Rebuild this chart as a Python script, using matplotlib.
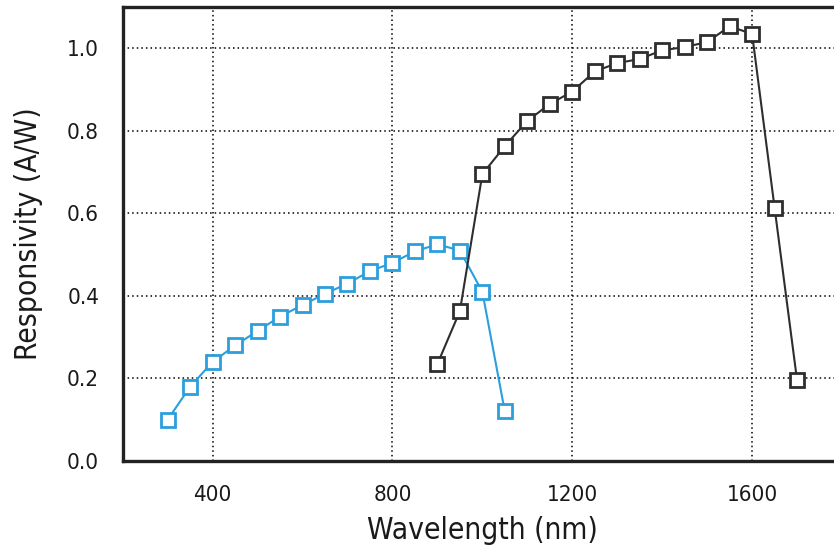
import matplotlib
matplotlib.use("Agg")
import matplotlib.pyplot as plt

plt.rcParams['font.family'] = ['DejaVu Sans']
plt.rcParams['font.stretch'] = 'condensed'

# silicon detector (blue)
si_wl = [300, 350, 400, 450, 500, 550, 600, 650, 700, 750, 800, 850, 900, 950, 1000, 1050]
si_resp = [0.10, 0.18, 0.24, 0.28, 0.315, 0.35, 0.378, 0.405, 0.43, 0.46, 0.48, 0.508, 0.525, 0.51, 0.41, 0.12]

# InGaAs detector (black)
ingaas_wl = [900, 950, 1000, 1050, 1100, 1150, 1200, 1250, 1300, 1350, 1400, 1450, 1500, 1550, 1600, 1650, 1700]
ingaas_resp = [0.235, 0.363, 0.695, 0.763, 0.824, 0.865, 0.895, 0.944, 0.964, 0.974, 0.995, 1.003, 1.015, 1.053, 1.035, 0.614, 0.196]

x_ticks = [400, 800, 1200, 1600]
y_ticks = [0.0, 0.2, 0.4, 0.6, 0.8, 1.0]

W, H = 834, 558
fig = plt.figure(figsize=(W / 100, H / 100), dpi=100)
ax = fig.add_axes([122.7 / W, 1 - 461 / H, (842 - 122.7) / W, (461 - 7) / H])

ax.plot(si_wl, si_resp, color='#2a9fdc', lw=1.5, marker='s', ms=9.5,
        mfc='white', mec='#2a9fdc', mew=2, zorder=3)
ax.plot(ingaas_wl, ingaas_resp, color='#2e2e2e', lw=1.5, marker='s', ms=9.5,
        mfc='white', mec='#2e2e2e', mew=2, zorder=3)

ax.set_xlim(200, 1800)
ax.set_ylim(0, 1.1)
ax.set_xticks(x_ticks)
ax.set_yticks(y_ticks)
ax.set_yticklabels(['%.1f' % v for v in y_ticks])

ax.set_axisbelow(True)
ax.grid(True, color='black', linestyle=(0, (1, 2)), linewidth=1.1)

for s in ax.spines.values():
    s.set_linewidth(2.4)
    s.set_color('#222222')

ax.tick_params(length=0, labelsize=16, pad=17, colors='#1a1a1a')
ax.set_xlabel('Wavelength (nm)', fontsize=21.5, labelpad=8, color='#1a1a1a')
ax.set_ylabel('Responsivity (A/W)', fontsize=21.5, labelpad=17, color='#1a1a1a')

fig.savefig('out.png', dpi=100)
